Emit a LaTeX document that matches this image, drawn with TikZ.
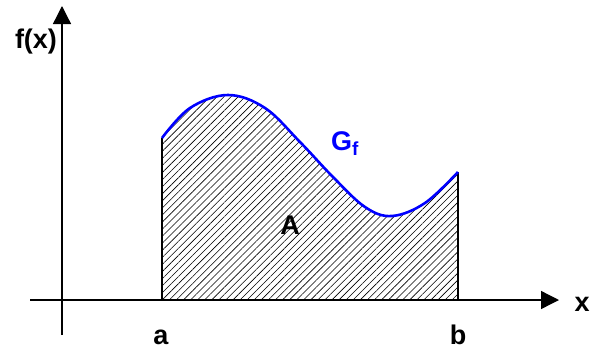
\documentclass[tikz,border=0pt]{standalone}
\usepackage{fontspec}
\setmainfont{Liberation Sans}
\usetikzlibrary{arrows.meta,patterns.meta}
\begin{document}
\begin{tikzpicture}[x=1pt,y=-1pt,
  lbl/.style={font=\fontsize{27}{27}\selectfont\bfseries, inner sep=0pt},
  axis/.style={line width=1.3pt, -{Triangle[length=18pt,width=18pt]}},
  bound/.style={line width=2.2pt}]
\useasboundingbox (0,0) rectangle (591,349);
\coordinate (xs) at (30,300);
\coordinate (xe) at (559,300);
\coordinate (ys) at (62,335);
\coordinate (ye) at (62,6);
\coordinate (a0) at (162,300);
\coordinate (a1) at (162,138);
\coordinate (b0) at (458,300);
\coordinate (b1) at (458,172);
\fill[pattern={Lines[angle=45,distance=5pt,line width=0.6pt]}]
  (a0) -- plot[smooth,tension=0.6] coordinates {(162,138) (190,108) (228,95) (265,108) (300,142) (333,177) (365,207) (392,216) (425,203) (458,172)} -- (b0) -- cycle;
\draw[axis] (xs) -- (xe);
\draw[axis] (ys) -- (ye);
\draw[bound] (a0) -- (a1);
\draw[bound] (b0) -- (b1);
\draw[blue, line width=2.6pt] plot[smooth,tension=0.6] coordinates {(162,138) (190,108) (228,95) (265,108) (300,142) (333,177) (365,207) (392,216) (425,203) (458,172)};
\node[lbl] (fx) at (36,42) {f(x)};
\node[lbl] (xl) at (582,304) {x};
\node[lbl] (al) at (161,337) {a};
\node[lbl] (bl) at (458,335) {b};
\node[lbl] (A) at (290,225) {A};
\node[lbl, blue] (G) at (345,144) {G\textsubscript{f}};
\end{tikzpicture}
\end{document}
